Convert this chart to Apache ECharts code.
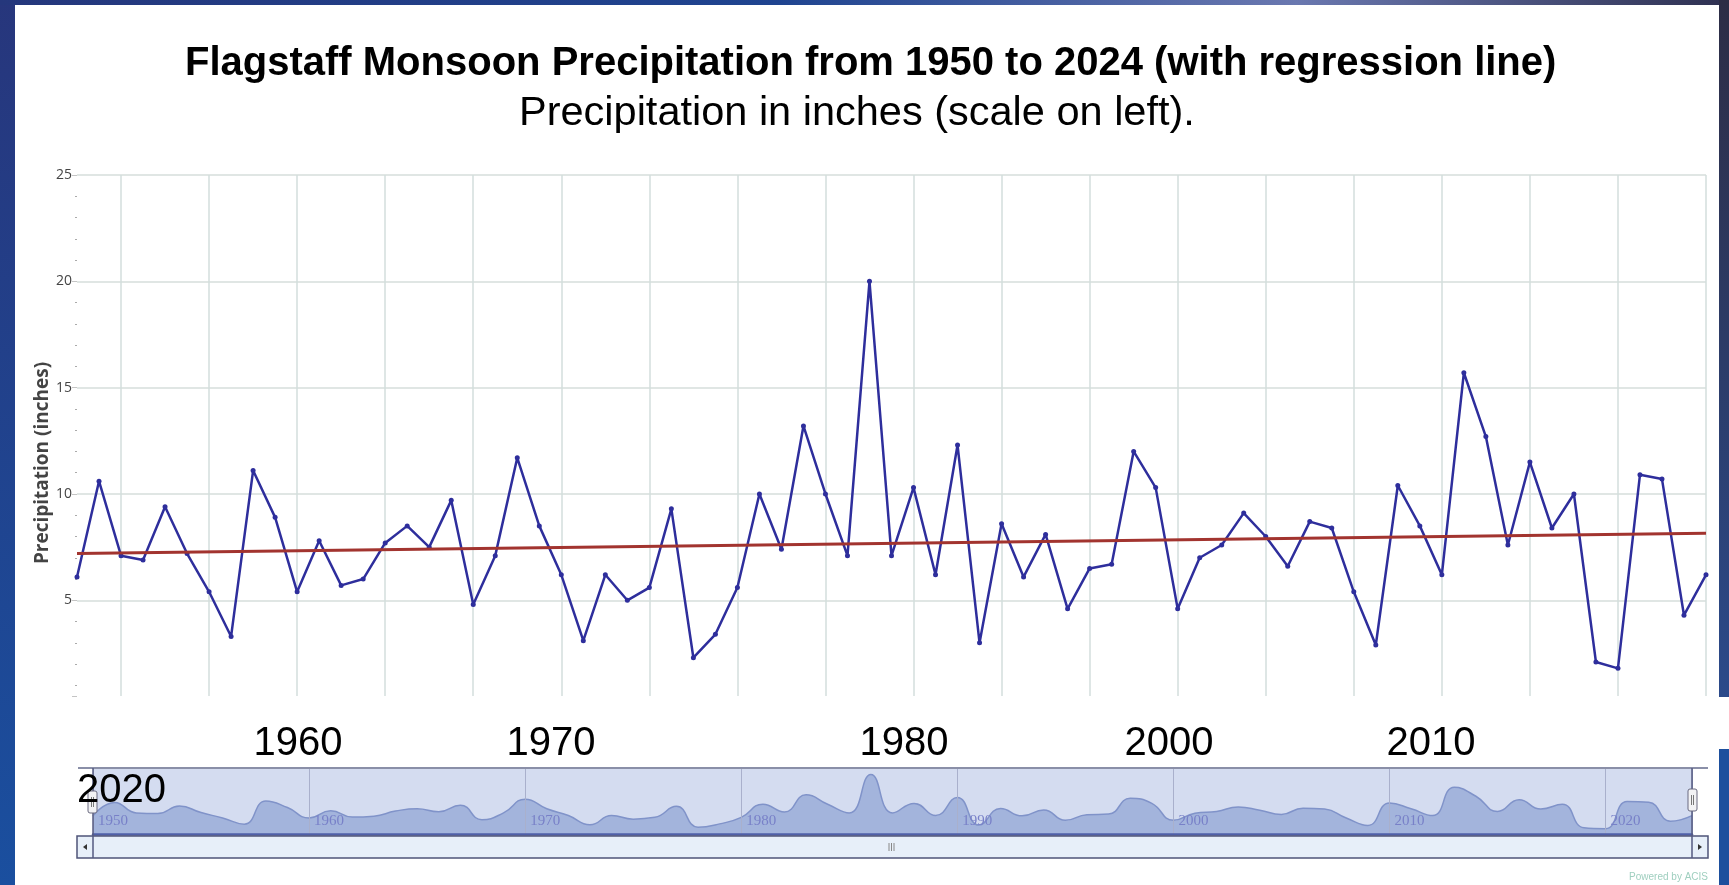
<!DOCTYPE html>
<html>
<head>
<meta charset="utf-8">
<title>Flagstaff Monsoon Precipitation</title>
<script src="https://cdn.jsdelivr.net/npm/echarts@6/dist/echarts.min.js"></script>
<style>
html, body { margin: 0; padding: 0; background: #fff; }
#chart { width: 1729px; height: 885px; }
</style>
</head>
<body>
<div id="chart"></div>
<script>
// monsoon season totals, inches
var years = [1950, 1951, 1952, 1953, 1954, 1955, 1956, 1957, 1958, 1959,
             1960, 1961, 1962, 1963, 1964, 1965, 1966, 1967, 1968, 1969,
             1970, 1971, 1972, 1973, 1974, 1975, 1976, 1977, 1978, 1979,
             1980, 1981, 1982, 1983, 1984, 1985, 1986, 1987, 1988, 1989,
             1990, 1991, 1992, 1993, 1994, 1995, 1996, 1997, 1998, 1999,
             2000, 2001, 2002, 2003, 2004, 2005, 2006, 2007, 2008, 2009,
             2010, 2011, 2012, 2013, 2014, 2015, 2016, 2017, 2018, 2019,
             2020, 2021, 2022, 2023, 2024];
var precip = [6.1, 10.6, 7.1, 6.9, 9.4, 7.2, 5.4, 3.3, 11.1, 8.9,
              5.4, 7.8, 5.7, 6.0, 7.7, 8.5, 7.5, 9.7, 4.8, 7.1,
              11.7, 8.5, 6.2, 3.1, 6.2, 5.0, 5.6, 9.3, 2.3, 3.4,
              5.6, 10.0, 7.4, 13.2, 10.0, 7.1, 20.0, 7.1, 10.3, 6.2,
              12.3, 3.0, 8.6, 6.1, 8.1, 4.6, 6.5, 6.7, 12.0, 10.3,
              4.6, 7.0, 7.6, 9.1, 8.0, 6.6, 8.7, 8.4, 5.4, 2.9,
              10.4, 8.5, 6.2, 15.7, 12.7, 7.6, 11.5, 8.4, 10.0, 2.1,
              1.8, 10.9, 10.7, 4.3, 6.2];
// regression line end points
var trendYears = ['1950', '2024'];
var trendValues = [7.2, 8.15];
// the big year labels pasted onto the slide
var overlayLabels = ['1960', '1970', '1980', '2000', '2010', '2020'];

var titleText = 'Flagstaff Monsoon Precipitation from 1950 to 2024 (with regression line)';
var subtitleText = 'Precipitation in inches (scale on left).';

var overlayPos = [[298, 744], [551, 744], [904, 744], [1169, 744], [1431, 744], [77, 791]];

var dom = document.getElementById('chart');
var myChart = echarts.init(dom, null, { renderer: 'canvas' });

var trendData = trendYears.map(function (y, i) { return [y, trendValues[i]]; });
var navData = precip.map(function (v, i) { return [years[i], v]; });

var gridColor = '#d6dedb';

var graphics = [];
// slide frame
graphics.push({
    type: 'rect', z: 100, silent: true,
    shape: { x: 0, y: 0, width: 15, height: 885 },
    style: { fill: new echarts.graphic.LinearGradient(0, 0, 0, 1, [
        { offset: 0, color: '#27367c' }, { offset: 1, color: '#1a4f9f' }]) }
});
graphics.push({
    type: 'rect', z: 100, silent: true,
    shape: { x: 0, y: 0, width: 1729, height: 5 },
    style: { fill: new echarts.graphic.LinearGradient(0, 0, 1, 0, [
        { offset: 0, color: '#25377c' }, { offset: 0.45, color: '#1f4490' },
        { offset: 0.75, color: '#6a78b0' }, { offset: 1, color: '#2e3050' }]) }
});
graphics.push({
    type: 'rect', z: 100, silent: true,
    shape: { x: 1719, y: 0, width: 10, height: 697 },
    style: { fill: new echarts.graphic.LinearGradient(0, 0, 0, 1, [
        { offset: 0, color: '#2d2d45' }, { offset: 1, color: '#2b4a8a' }]) }
});
graphics.push({
    type: 'rect', z: 100, silent: true,
    shape: { x: 1719, y: 749, width: 10, height: 136 },
    style: { fill: '#1d4f9d' }
});

// navigator outline
graphics.push({ type: 'line', z: 50, silent: true, shape: { x1: 78, y1: 768, x2: 1708, y2: 768 },
    style: { stroke: '#8a8fa8', lineWidth: 2 } });
graphics.push({ type: 'line', z: 50, silent: true, shape: { x1: 93, y1: 768, x2: 93, y2: 858 },
    style: { stroke: '#555a80', lineWidth: 1.5 } });
graphics.push({ type: 'line', z: 50, silent: true, shape: { x1: 1692, y1: 768, x2: 1692, y2: 858 },
    style: { stroke: '#555a80', lineWidth: 1.5 } });

// scrollbar
graphics.push({ type: 'rect', z: 40, silent: true, shape: { x: 77, y: 836, width: 1631, height: 22 },
    style: { fill: '#e7eff9', stroke: '#4f5478', lineWidth: 1.5 } });
graphics.push({ type: 'polygon', z: 51, silent: true, shape: { points: [[87, 844], [87, 850], [83, 847]] },
    style: { fill: '#333' } });
graphics.push({ type: 'polygon', z: 51, silent: true, shape: { points: [[1698, 844], [1698, 850], [1702, 847]] },
    style: { fill: '#333' } });
[889, 891.5, 894].forEach(function (x) {
    graphics.push({ type: 'line', z: 51, silent: true, shape: { x1: x, y1: 843, x2: x, y2: 851 },
        style: { stroke: '#888', lineWidth: 1 } });
});

// navigator handles
[[88, 791], [1688, 789]].forEach(function (p) {
    graphics.push({ type: 'rect', z: 52, silent: true, shape: { x: p[0], y: p[1], width: 9, height: 22, r: 2 },
        style: { fill: '#f2f2f4', stroke: '#6a6a80', lineWidth: 1 } });
    graphics.push({ type: 'line', z: 53, silent: true, shape: { x1: p[0] + 3.5, y1: p[1] + 6, x2: p[0] + 3.5, y2: p[1] + 16 },
        style: { stroke: '#777', lineWidth: 1 } });
    graphics.push({ type: 'line', z: 53, silent: true, shape: { x1: p[0] + 5.5, y1: p[1] + 6, x2: p[0] + 5.5, y2: p[1] + 16 },
        style: { stroke: '#777', lineWidth: 1 } });
});

graphics.push({ type: 'text', z: 60, silent: true,
    style: { text: 'Powered by ACIS', x: 1708, y: 877, textAlign: 'right', textVerticalAlign: 'middle',
        fontSize: 10, fontFamily: 'Liberation Sans', fill: '#9fcfbf' } });

overlayLabels.forEach(function (t, i) {
    var p = overlayPos[i];
    graphics.push({ type: 'text', z: 120, silent: true,
        style: { text: t, x: p[0], y: p[1], textAlign: i === 5 ? 'left' : 'center', textVerticalAlign: 'middle',
            fontSize: 40, fontFamily: 'Liberation Sans', fill: '#000' } });
});

var option = {
    animation: false,
    backgroundColor: '#fff',
    title: [{
        text: titleText,
        left: 185, top: 44, padding: 0,
        textStyle: { fontFamily: 'Liberation Sans', fontSize: 40, fontWeight: 'bold', color: '#000', lineHeight: 40 }
    }, {
        text: subtitleText,
        left: 519, top: 93, padding: 0,
        textStyle: { fontFamily: 'Liberation Sans', fontSize: 41.5, fontWeight: 'normal', color: '#000', lineHeight: 41 }
    }],
    grid: [
        { left: 77, right: 23, top: 175, bottom: 189 },
        { left: 93, right: 37, top: 768, bottom: 51, show: true, backgroundColor: '#d4dcf0', borderWidth: 0 }
    ],
    xAxis: [{
        type: 'category',
        gridIndex: 0,
        data: years.map(String),
        boundaryGap: false,
        axisLine: { show: false },
        axisTick: { show: false },
        axisLabel: { show: false },
        splitLine: {
            show: true,
            interval: function (i) { return (i - 2) % 4 === 0; },
            lineStyle: { color: '#d3dedd', width: 1.5 }
        }
    }, {
        type: 'value',
        gridIndex: 1,
        z: 3,
        min: 1950, max: 2024, interval: 10,
        axisLine: { show: true, lineStyle: { color: '#4f5fa8', width: 2.5 } },
        axisTick: { show: false },
        axisLabel: {
            inside: true, align: 'left', margin: 5, padding: [0, 0, 0, 5],
            color: '#7880c8', fontFamily: 'Liberation Serif', fontSize: 15, showMaxLabel: false,
            formatter: function (v) { return String(v); }
        },
        splitLine: { show: true, lineStyle: { color: '#a9b0cc', width: 1 } }
    }],
    yAxis: [{
        type: 'value',
        gridIndex: 0,
        min: 0.5, max: 25, splitNumber: 5,
        name: 'Precipitation (inches)',
        nameLocation: 'middle',
        nameGap: 25,
        nameMoveOverlap: false,
        nameTextStyle: { fontFamily: 'Open Sans', fontWeight: 'bold', fontSize: 19, color: '#444', padding: [0, 55, 0, 0] },
        axisLine: { show: false },
        axisTick: { show: true, length: 5, lineStyle: { color: '#c4c4c4' } },
        minorTick: { show: true, splitNumber: 5, length: 2, lineStyle: { color: '#aaa' } },
        axisLabel: { showMinLabel: false, margin: 5, color: '#444', fontFamily: 'Open Sans', fontSize: 14 },
        // no line at the cut-off bottom edge (0.5)
        splitLine: { lineStyle: { color: ['rgba(0,0,0,0)', gridColor, gridColor, gridColor, gridColor, gridColor], width: 1.5 } }
    }, {
        type: 'value',
        gridIndex: 1,
        min: 0, max: 22.2,
        show: false,
        splitLine: { show: false }
    }],
    series: [{
        name: 'Precipitation',
        type: 'line',
        xAxisIndex: 0, yAxisIndex: 0,
        data: precip,
        symbol: 'circle', symbolSize: 5, showAllSymbol: true,
        lineStyle: { color: '#2e2e9c', width: 2.5 },
        itemStyle: { color: '#2e2e9c' },
        z: 3
    }, {
        name: 'Regression',
        type: 'line',
        xAxisIndex: 0, yAxisIndex: 0,
        data: trendData,
        symbol: 'none',
        lineStyle: { color: '#a2342f', width: 3 },
        z: 4
    }, {
        name: 'Navigator',
        type: 'line',
        xAxisIndex: 1, yAxisIndex: 1,
        data: navData,
        smooth: true,
        symbol: 'none',
        lineStyle: { color: '#8093c9', width: 1.5 },
        areaStyle: { color: '#a3b4dc', opacity: 1 },
        z: 2
    }],
    graphic: graphics
};

if (option && typeof option === 'object') {
    myChart.setOption(option, true);
}
</script>
</body>
</html>
